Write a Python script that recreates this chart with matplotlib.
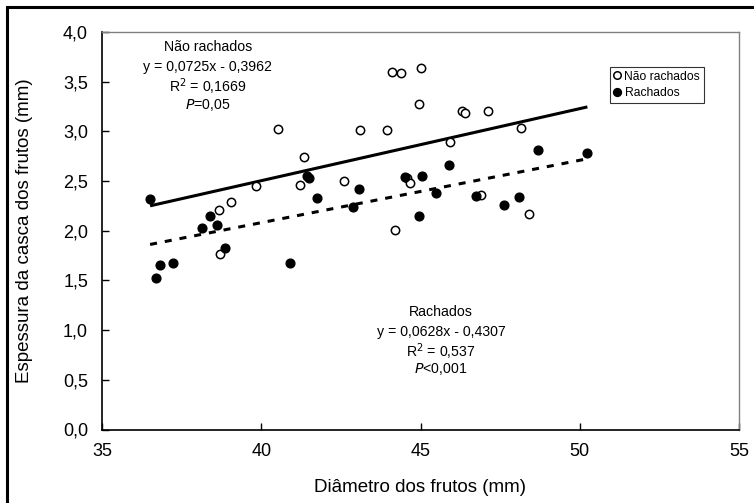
import matplotlib
matplotlib.use("Agg")
import matplotlib.pyplot as plt
import matplotlib.patches as patches
import numpy as np

plt.rcParams['font.family'] = ['Liberation Sans', 'DejaVu Sans']

# Não rachados (open circles)
nr_x = [40.54, 43.11, 43.94, 44.11, 44.40, 45.03, 44.95, 46.30, 46.40, 47.13,
        48.17, 45.94, 41.34, 39.85, 41.22, 42.60, 44.59, 44.67, 39.05, 38.66,
        38.72, 44.20, 46.90, 48.40]
nr_y = [3.02, 3.01, 3.01, 3.60, 3.585, 3.64, 3.28, 3.21, 3.18, 3.21,
        3.03, 2.89, 2.74, 2.45, 2.46, 2.50, 2.53, 2.48, 2.29, 2.21,
        1.77, 2.005, 2.36, 2.17]

# Rachados (filled circles)
r_x = [36.51, 36.68, 36.83, 37.24, 38.13, 38.40, 38.60, 38.85, 40.91, 41.43,
       41.51, 41.75, 42.87, 43.08, 44.52, 45.06, 44.95, 45.50, 45.89, 46.75,
       47.61, 48.10, 48.69, 50.24]
r_y = [2.316, 1.523, 1.654, 1.680, 2.025, 2.149, 2.055, 1.824, 1.674, 2.554,
       2.53, 2.33, 2.24, 2.42, 2.54, 2.55, 2.15, 2.38, 2.66, 2.35,
       2.26, 2.34, 2.81, 2.78]

# Regression coefficients (slope, intercept)
nr_fit = (0.0725, -0.3962)
r_fit = (0.0628, -0.4307)

x_ticks = [35, 40, 45, 50, 55]
y_ticks = [0.0, 0.5, 1.0, 1.5, 2.0, 2.5, 3.0, 3.5, 4.0]

nr_text = ["Não rachados", "y = 0,0725x - 0,3962", r"R$^2$ = 0,1669", r"$\it{P}$=0,05"]
r_text = ["Rachados", "y = 0,0628x - 0,4307", r"R$^2$ = 0,537", r"$\it{P}$<0,001"]

fig = plt.figure(figsize=(7.54, 5.03), dpi=100)
ax = fig.add_axes([102/754, 1-429.5/503, (739-102)/754, (429.5-32)/503])

# outer frame
fig.patches.append(patches.Rectangle((7/754, -0.1), 1.2, (503-7)/503 + 0.1,
                                     transform=fig.transFigure, fill=False,
                                     lw=2.2, edgecolor='black'))

xs = np.array([min(nr_x + r_x), max(nr_x + r_x)])
ax.plot(xs, nr_fit[0]*xs + nr_fit[1], color='black', lw=2.2, solid_capstyle='butt', zorder=2)
ax.plot(xs, r_fit[0]*xs + r_fit[1], color='black', lw=2.2, linestyle=(0, (2.3, 2.6)), zorder=2)

ax.plot(nr_x, nr_y, 'o', markersize=6, markerfacecolor='white', markeredgecolor='black',
        markeredgewidth=1.1, linestyle='none', label='Não rachados', zorder=3)
ax.plot(r_x, r_y, 'o', markersize=6.3, markerfacecolor='black', markeredgecolor='black',
        linestyle='none', label='Rachados', zorder=3)

ax.set_xlim(35, 55)
ax.set_ylim(0, 4)
ax.set_xticks(x_ticks)
ax.set_yticks(y_ticks)
ax.set_xticklabels([str(v) for v in x_ticks])
ax.set_yticklabels([f"{v:.1f}".replace('.', ',') for v in y_ticks])
ax.tick_params(direction='in', length=5, width=1, labelsize=13)
ax.tick_params(axis='y', pad=10)
ax.tick_params(axis='x', pad=10)
for s in ['left', 'bottom']:
    ax.spines[s].set_color('black')
    ax.spines[s].set_linewidth(1.2)
for s in ['top', 'right']:
    ax.spines[s].set_color('#808080')
    ax.spines[s].set_linewidth(1.0)

ax.set_xlabel("Diâmetro dos frutos (mm)", fontsize=13.5)
ax.set_ylabel("Espessura da casca dos frutos (mm)", fontsize=13.5)
ax.xaxis.set_label_coords(0.5, -0.125)
ax.yaxis.set_label_coords(-0.108, 0.5)

nr_ys = [3.846, 3.652, 3.445, 3.263]
r_ys = [1.185, 0.984, 0.783, 0.606]
for t, yv in zip(nr_text, nr_ys):
    ax.text(38.32, yv, t, ha='center', va='center', fontsize=10.2)
for t, yv in zip(r_text, r_ys):
    ax.text(45.65, yv, t, ha='center', va='center', fontsize=10.2)

leg = ax.legend(loc='upper left', bbox_to_anchor=((610-102)/637, 1-(67-32)/397.5),
                frameon=True, fancybox=False, edgecolor='black', fontsize=8.7,
                handlelength=0.6, handletextpad=0.3, borderpad=0.3,
                labelspacing=0.4, borderaxespad=0, markerscale=0.9)
leg.get_frame().set_linewidth(0.8)

fig.savefig("out.png", dpi=100)
